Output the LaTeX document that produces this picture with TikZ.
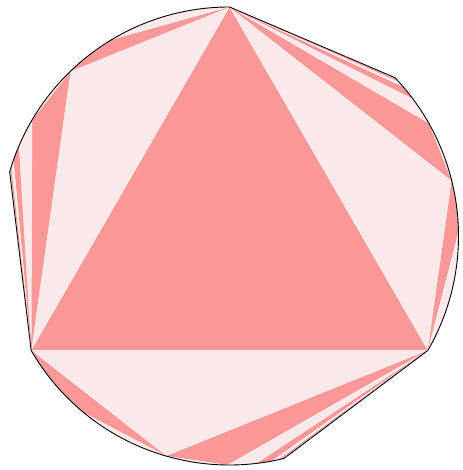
\documentclass[tikz,border=0pt]{standalone}
\definecolor{darkpk}{RGB}{253,152,152}
\definecolor{lightpk}{RGB}{252,234,234}
\begin{document}
\begin{tikzpicture}[x=1pt,y=1pt,
  dk/.style={fill=darkpk},
  lt/.style={fill=lightpk},
  rim/.style={draw=black,line width=0.9pt,line join=round}]
\useasboundingbox (0,0) rectangle (462,470);
\coordinate (C) at (229.5,234);
\def\R{229}
\foreach \n/\a in {T/90,L/210,R/330,
  P1/134,HA/142,Q1/149.5,Q2/156.9,Q3/160.6,Q4/162.4,Q5/163.3,Q6/163.75,S1/121,S2/105,
  B1/254,HB/262,E1/269.5,E2/276.9,E3/280.6,E4/282.4,E5/283.3,E6/283.75,D1/230.5,D2/242,
  P2/14,HC/22,F1/29.5,F2/36.9,F3/40.6,F4/42.4,F5/43.3,F6/43.75,G1/1,G2/345}
  \path (C) ++(\a:\R) coordinate (\n);
% main triangle
\fill[dk] (T) -- (L) -- (R) -- cycle;
% first-level triangles
\fill[lt] (T) -- (L) -- (P1) -- cycle;
\fill[lt] (L) -- (R) -- (B1) -- cycle;
\fill[lt] (R) -- (T) -- (P2) -- cycle;
% fans
\foreach \a/\b/\s in {P1/Q1/dk,Q1/Q2/lt,Q2/Q3/dk,Q3/Q4/lt,Q4/Q5/dk,Q5/Q6/lt}
  \fill[\s] (L) -- (\a) -- (\b) -- cycle;
\foreach \a/\b/\s in {B1/E1/dk,E1/E2/lt,E2/E3/dk,E3/E4/lt,E4/E5/dk,E5/E6/lt}
  \fill[\s] (R) -- (\a) -- (\b) -- cycle;
\foreach \a/\b/\s in {P2/F1/dk,F1/F2/lt,F2/F3/dk,F3/F4/lt,F4/F5/dk,F5/F6/lt}
  \fill[\s] (T) -- (\a) -- (\b) -- cycle;
% secondary triangles
\fill[dk] (T) -- (P1) -- (S1) -- cycle;
\fill[lt] (T) -- (S1) -- (S2) -- cycle;
\fill[lt] (P1) -- (Q1) -- (HA) -- cycle;
\fill[dk] (L) -- (B1) -- (D1) -- cycle;
\fill[lt] (D1) -- (B1) -- (D2) -- cycle;
\fill[lt] (B1) -- (E1) -- (HB) -- cycle;
\fill[dk] (R) -- (P2) -- (G1) -- cycle;
\fill[lt] (R) -- (G1) -- (G2) -- cycle;
\fill[lt] (P2) -- (F1) -- (HC) -- cycle;
% circular segments beyond the outer chords
\foreach \a/\b/\s in {90/105/lt,105/121/lt,121/134/dk,134/142/lt,142/149.5/lt,
  149.5/156.9/lt,156.9/160.6/dk,160.6/162.4/lt,162.4/163.3/dk,163.3/163.75/lt,
  210/230.5/dk,230.5/242/lt,242/254/lt,254/262/lt,262/269.5/lt,269.5/276.9/lt,
  276.9/280.6/dk,280.6/282.4/lt,282.4/283.3/dk,283.3/283.75/lt,
  330/345/lt,345/361/lt,361/374/dk,374/382/lt,382/389.5/lt,389.5/396.9/lt,
  396.9/400.6/dk,400.6/402.4/lt,402.4/403.3/dk,403.3/403.75/lt}
  \fill[\s] ([shift={(C)}]\a:\R) arc[start angle=\a,end angle=\b,radius=\R] -- cycle;
% outline
\draw[rim] (T) arc[start angle=90,end angle=163.75,radius=\R] -- (L)
  arc[start angle=210,end angle=283.75,radius=\R] -- (R)
  arc[start angle=330,end angle=403.75,radius=\R] -- cycle;
\end{tikzpicture}
\end{document}
